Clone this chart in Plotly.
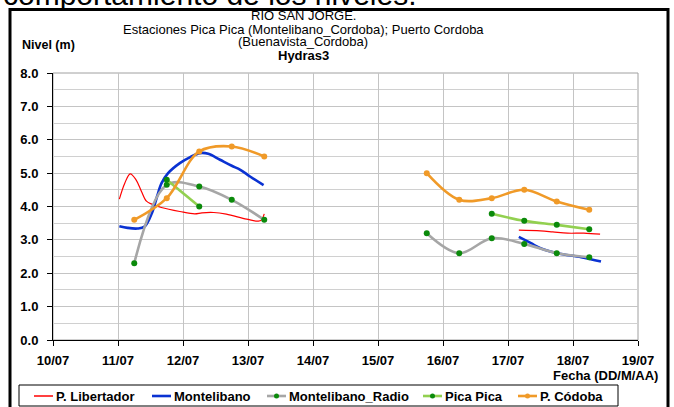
import plotly.graph_objects as go

YEAR = "2012"

# ---- series data (date "MM-DD HH:MM", level in m); None marks a gap ----
lib_t = ["07-11 00:30", "07-11 02:30", "07-11 04:30", "07-11 06:40", "07-11 08:40",
         "07-11 10:30", "07-11 12:30", "07-11 16:00", "07-11 22:50", "07-12 04:20",
         "07-12 07:00", "07-12 11:20", "07-12 16:00", "07-12 23:30", "07-13 03:50",
         "07-13 05:00", "07-13 06:00", None,
         "07-17 04:00", "07-17 12:00", "07-17 16:30", "07-17 22:00", "07-18 04:00",
         "07-18 10:00"]
lib_v = [4.22, 4.70, 4.98, 4.80, 4.45,
         4.16, 4.07, 3.97, 3.85, 3.78,
         3.81, 3.82, 3.77, 3.62, 3.56,
         3.60, 3.78, None,
         3.29, 3.27, 3.24, 3.20, 3.20,
         3.17]

mon_t = ["07-11 00:30", "07-11 03:30", "07-11 07:10", "07-11 09:50", "07-11 12:30",
         "07-11 14:25", "07-11 16:05", "07-11 18:30", "07-11 22:50", "07-12 02:40",
         "07-12 06:15", "07-12 09:20", "07-12 13:40", "07-12 18:00", "07-12 21:10",
         "07-13 00:45", "07-13 05:45", None,
         "07-17 04:00", "07-17 08:30", "07-17 12:00", "07-17 18:15", "07-18 03:00",
         "07-18 10:20"]
mon_v = [3.41, 3.36, 3.34, 3.40, 3.80,
         4.30, 4.70, 5.00, 5.30, 5.48,
         5.60, 5.58, 5.40, 5.22, 5.10,
         4.90, 4.64, None,
         3.09, 2.90, 2.75, 2.60, 2.48,
         2.35]

radio_t = ["07-11 06:00", "07-11 18:00", "07-12 06:00", "07-12 18:00", "07-13 06:00", None,
           "07-15 18:00", "07-16 06:00", "07-16 18:00", "07-17 06:00", "07-17 18:00",
           "07-18 06:00"]
radio_v = [2.30, 4.65, 4.60, 4.20, 3.60, None,
           3.20, 2.60, 3.05, 2.88, 2.60,
           2.48]

pica_t = ["07-11 18:00", "07-12 06:00", None,
          "07-16 18:00", "07-17 06:00", "07-17 18:00", "07-18 06:00"]
pica_v = [4.80, 4.00, None,
          3.78, 3.57, 3.45, 3.32]

cor_t = ["07-11 06:00", "07-11 18:00", "07-12 06:00", "07-12 18:00", "07-13 06:00", None,
         "07-15 18:00", "07-16 06:00", "07-16 18:00", "07-17 06:00", "07-17 18:00",
         "07-18 06:00"]
cor_v = [3.60, 4.25, 5.65, 5.80, 5.50, None,
         5.00, 4.20, 4.25, 4.50, 4.15,
         3.90]

series_names = ["P. Libertador", "Montelibano", "Montelibano_Radio", "Pica Pica", "P. Códoba"]

title_lines = ["RIO SAN JORGE.",
               "Estaciones Pica Pica (Montelibano_Cordoba); Puerto Cordoba",
               "(Buenavista_Cordoba)"]
subtitle = "Hydras3"
y_title = "Nivel (m)"
x_title = "Fecha (DD/M/AA)"
page_text = "comportamiento de los niveles."


def dates(ts):
    return [None if t is None else f"{YEAR}-{t}" for t in ts]


# ---- styles ----
FONT = "Liberation Sans, Arial, sans-serif"
styles = [
    dict(color="#FF0000", width=1.2, marker=None),
    dict(color="#0A32D2", width=2.6, marker=None),
    dict(color="#A6A6A6", width=2.6, marker="#0B8A0B"),
    dict(color="#92D050", width=2.6, marker="#0B8A0B"),
    dict(color="#F09A28", width=2.6, marker="#F09A28"),
]
xs = [lib_t, mon_t, radio_t, pica_t, cor_t]
ys = [lib_v, mon_v, radio_v, pica_v, cor_v]

fig = go.Figure()
for name, st, xt, yv in zip(series_names, styles, xs, ys):
    mode = "lines+markers" if st["marker"] else "lines"
    fig.add_trace(go.Scatter(
        x=dates(xt), y=yv, name=name, mode=mode,
        line=dict(color=st["color"], width=st["width"], shape="spline", smoothing=1.0),
        marker=dict(color=st["marker"] or st["color"], size=6) if st["marker"] else None,
        connectgaps=False, showlegend=False,
    ))

# ---- pixel helpers for the layout decorations ----
W, H = 674, 407
L, R, T, B = 53, 638, 73, 340


def px(x):
    return (x - L) / (R - L)


def py(y):
    return (B - y) / (B - T)


shapes = []
annotations = []

# outer frame of the chart object
shapes.append(dict(type="rect", xref="paper", yref="paper",
                   x0=px(10), x1=px(668), y0=py(440), y1=py(9.5),
                   line=dict(color="black", width=3), layer="above"))
# plot area border (top / right in grey)
shapes.append(dict(type="rect", xref="paper", yref="paper",
                   x0=0, x1=1, y0=0, y1=1,
                   line=dict(color="#A0A0A0", width=1), layer="below"))

# page text above the chart (only its lower edge shows)
annotations.append(dict(text=page_text, xref="paper", yref="paper",
                        x=px(1), y=py(13), xanchor="left", yanchor="bottom",
                        showarrow=False, font=dict(family=FONT, size=30, color="black")))

# titles
title_y = [15.5, 29, 42]
for txt, yy in zip(title_lines, title_y):
    annotations.append(dict(text=txt, xref="paper", yref="paper", x=px(303), y=py(yy),
                            xanchor="center", yanchor="middle", showarrow=False,
                            font=dict(family=FONT, size=13, color="black")))
annotations.append(dict(text=subtitle, xref="paper", yref="paper", x=px(303), y=py(55),
                        xanchor="center", yanchor="middle", showarrow=False,
                        font=dict(family=FONT, size=13, color="black", weight="bold")))
annotations.append(dict(text=y_title, xref="paper", yref="paper", x=px(20), y=py(45),
                        xanchor="left", yanchor="middle", showarrow=False,
                        font=dict(family=FONT, size=12.5, color="black", weight="bold")))
annotations.append(dict(text=x_title, xref="paper", yref="paper", x=px(660), y=py(375),
                        xanchor="right", yanchor="middle", showarrow=False,
                        font=dict(family=FONT, size=13, color="black", weight="bold")))

# legend box drawn beneath the axis
leg_y = 396
shapes.append(dict(type="rect", xref="paper", yref="paper",
                   x0=px(19), x1=px(618), y0=py(406), y1=py(385),
                   line=dict(color="black", width=1), fillcolor="white", layer="above"))
leg_x = [34, 152, 267, 423, 518]
for name, st, lx in zip(series_names, styles, leg_x):
    shapes.append(dict(type="line", xref="paper", yref="paper",
                       x0=px(lx), x1=px(lx + 19), y0=py(leg_y), y1=py(leg_y),
                       line=dict(color=st["color"], width=2.6 if st["width"] > 2 else 1.5),
                       layer="above"))
    if st["marker"]:
        cx = lx + 9.5
        r = 2.5
        shapes.append(dict(type="circle", xref="paper", yref="paper",
                           x0=px(cx - r), x1=px(cx + r), y0=py(leg_y + r), y1=py(leg_y - r),
                           line=dict(width=0), fillcolor=st["marker"], layer="above"))
    annotations.append(dict(text=name, xref="paper", yref="paper", x=px(lx + 20), y=py(leg_y),
                            xanchor="left", yanchor="middle", showarrow=False,
                            font=dict(family=FONT, size=13, color="black", weight="bold")))

tickfont = dict(family=FONT, size=13, color="black", weight="bold")

fig.update_layout(
    width=W, height=H,
    margin=dict(l=L, r=W - R, t=T, b=H - B, autoexpand=False),
    paper_bgcolor="white", plot_bgcolor="white",
    showlegend=False,
    shapes=shapes, annotations=annotations,
    xaxis=dict(
        type="date", range=[f"{YEAR}-07-10", f"{YEAR}-07-19"],
        dtick=86400000, tick0=f"{YEAR}-07-10", tickformat="%d/%m",
        showgrid=True, gridcolor="#C4C4C4", gridwidth=1,
        showline=True, linecolor="black", linewidth=1,
        ticks="outside", ticklen=5, tickcolor="black",
        tickfont=tickfont, zeroline=False, ticklabelstandoff=3,
    ),
    yaxis=dict(
        range=[0, 8], dtick=1, tick0=0, tickformat=".1f",
        showgrid=True, gridcolor="#C4C4C4", gridwidth=1,
        minor=dict(dtick=0.5, showgrid=True, gridcolor="#D0D0D0", gridwidth=1),
        showline=True, linecolor="black", linewidth=1,
        ticks="outside", ticklen=5, tickcolor="black",
        tickfont=tickfont, zeroline=False, ticklabelstandoff=6,
    ),
)

fig.write_html("out.html")
